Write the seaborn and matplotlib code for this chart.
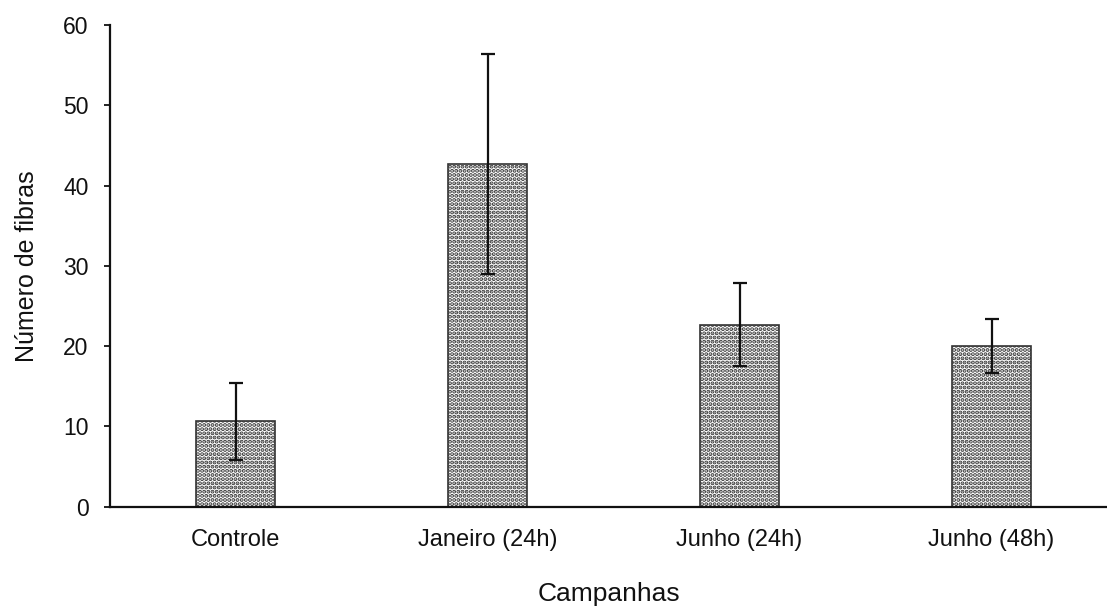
import matplotlib
matplotlib.use("Agg")
import matplotlib.pyplot as plt
import seaborn as sns
import pandas as pd

# Mean number of fibres per campaign and their standard deviations
campanhas = ["Controle", "Janeiro (24h)", "Junho (24h)", "Junho (48h)"]
media = [10.67, 42.67, 22.67, 20.0]
desvio = [4.8, 13.67, 5.2, 3.4]

y_ticks = [0, 10, 20, 30, 40, 50, 60]

sns.set_theme(style="white")
plt.rcParams["font.family"] = ["Liberation Sans", "DejaVu Sans"]
plt.rcParams["hatch.color"] = "#111111"
plt.rcParams["hatch.linewidth"] = 2.0

df = pd.DataFrame({"Campanhas": campanhas, "Fibras": media})

fig = plt.figure(figsize=(11.07, 6.07), dpi=100)
ax = fig.add_axes([0.0994, 0.1652, 0.9006, 0.7936])

sns.barplot(data=df, x="Campanhas", y="Fibras", order=campanhas,
            color="white", edgecolor="#333333", linewidth=1.2,
            width=0.315, errorbar=None, ax=ax)
for patch in ax.patches:
    patch.set_hatch("....")

ax.errorbar(range(len(campanhas)), media, yerr=desvio, fmt="none",
            ecolor="#111111", elinewidth=1.6, capsize=4.8, capthick=1.6)

ax.set_xlim(-0.498, 3.458)
ax.set_ylim(0, 60)
ax.set_yticks(y_ticks)
ax.set_yticklabels([str(t) for t in y_ticks])
ax.tick_params(axis="x", length=0, pad=16, labelsize=17, labelcolor="#111111")
ax.tick_params(axis="y", left=True, length=4.5, width=1.3, color="#111111",
               pad=11, labelsize=16.5, labelcolor="#111111")

ax.set_xlabel("Campanhas", fontsize=19, labelpad=22, color="#111111")
ax.set_ylabel("Número de fibras", fontsize=18, labelpad=17, color="#111111")

for side in ["top", "right"]:
    ax.spines[side].set_visible(False)
for side in ["left", "bottom"]:
    ax.spines[side].set_color("#111111")
    ax.spines[side].set_linewidth(1.6)

fig.savefig("out.png", dpi=100)
